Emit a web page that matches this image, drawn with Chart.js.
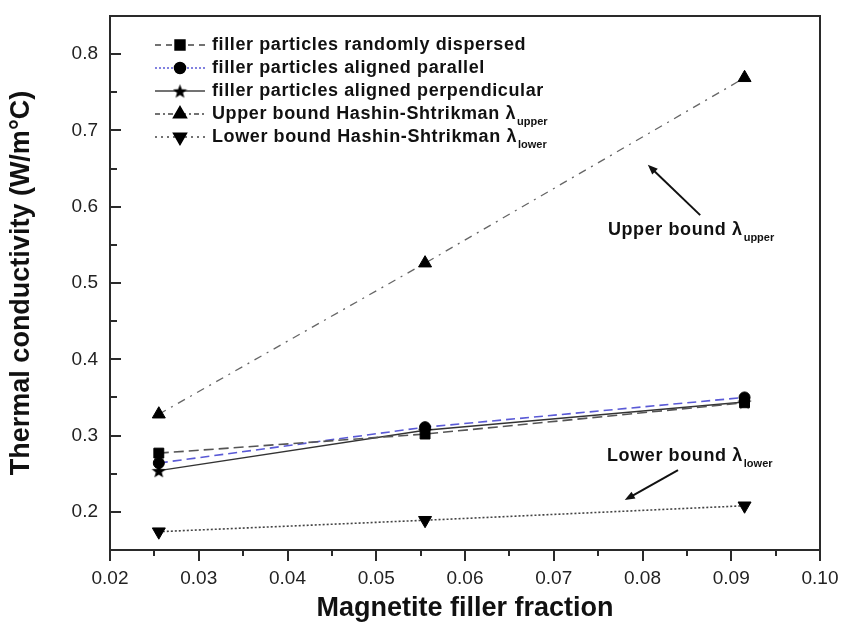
<!DOCTYPE html>
<html><head><meta charset="utf-8">
<script src="https://cdn.jsdelivr.net/npm/chart.js@4/dist/chart.umd.min.js"></script>
<style>html,body{margin:0;padding:0;background:#fff;}#wrap{width:842px;height:625px;}</style>
</head><body><div id="wrap"><canvas id="c" width="842" height="625"></canvas></div>
<script>
// ---- data ----
const xValues = [0.0255, 0.0555, 0.0915];
const randomlyDispersed = [0.277, 0.302, 0.343];
const alignedParallel = [0.264, 0.311, 0.350];
const alignedPerpendicular = [0.254, 0.307, 0.344];
const upperBound = [0.328, 0.526, 0.769];
const lowerBound = [0.174, 0.189, 0.208];
const seriesLabels = ['filler particles randomly dispersed', 'filler particles aligned parallel', 'filler particles aligned perpendicular', 'Upper bound Hashin-Shtrikman \u03bb', 'Lower bound Hashin-Shtrikman \u03bb'];
const seriesSubscripts = ['', '', '', 'upper', 'lower'];
const xTickValues = [0.02, 0.03, 0.04, 0.05, 0.06, 0.07, 0.08, 0.09, 0.10];
const xMinorTickValues = [0.025, 0.035, 0.045, 0.055, 0.065, 0.075, 0.085, 0.095];
const yTickValues = [0.2, 0.3, 0.4, 0.5, 0.6, 0.7, 0.8];
const yMinorTickValues = [0.25, 0.35, 0.45, 0.55, 0.65, 0.75];
const xTitle = 'Magnetite filler fraction';
const yTitle = 'Thermal conductivity (W/m\u00b0C)';
// annotations: [label, subscript, textX, textY, arrowTailX, arrowTailY, arrowHeadX, arrowHeadY] in data units
const annUpper = ['Upper bound \u03bb', 'upper', 0.0761, 0.563, 0.0865, 0.589, 0.0806, 0.655];
const annLower = ['Lower bound \u03bb', 'lower', 0.0760, 0.2666, 0.0840, 0.2548, 0.0780, 0.2155];

function pts(ys){ return xValues.map((x,i)=>({x:x, y:ys[i]})); }

function makeStar(size){
  const c=document.createElement('canvas'); c.width=size; c.height=size;
  const g=c.getContext('2d'); g.fillStyle='#000'; g.beginPath();
  const cx=size/2, cy=size/2+0.8, R=size/2, r=R*0.42;
  for(let i=0;i<10;i++){const a=-Math.PI/2+i*Math.PI/5; const rr=i%2?r:R; g.lineTo(cx+rr*Math.cos(a), cy+rr*Math.sin(a));}
  g.closePath(); g.fill(); return c;
}
const star = makeStar(15);

const FONT = "'Liberation Sans', Arial, sans-serif";
const legendDashes = [[6,5],[2,2],[],[5,3,2,3],[2,4]];

const datasets = [
  {label: seriesLabels[0], data: pts(randomlyDispersed), borderColor:'#555', borderDash:[10,5], borderWidth:1.6,
   pointStyle:'rect', pointRadius:7, pointBackgroundColor:'#000', pointBorderColor:'#000', pointBorderWidth:1},
  {label: seriesLabels[1], data: pts(alignedParallel), borderColor:'#5a5ad6', borderDash:[9,5], borderWidth:1.6,
   pointStyle:'circle', pointRadius:5.5, pointBackgroundColor:'#000', pointBorderColor:'#000', pointBorderWidth:1},
  {label: seriesLabels[2], data: pts(alignedPerpendicular), borderColor:'#333', borderWidth:1.4,
   pointStyle:star, pointRadius:7, pointBackgroundColor:'#000', pointBorderColor:'#000', pointBorderWidth:1},
  {label: seriesLabels[3], data: pts(upperBound), borderColor:'#666', borderDash:[8,6,2,6], borderWidth:1.3,
   pointStyle:'triangle', pointRadius:7.5, pointBackgroundColor:'#000', pointBorderColor:'#000', pointBorderWidth:1},
  {label: seriesLabels[4], data: pts(lowerBound), borderColor:'#444', borderDash:[2,2], borderWidth:1.6,
   pointStyle:'triangle', rotation:180, pointRotation:180, pointRadius:7.5, pointBackgroundColor:'#000', pointBorderColor:'#000', pointBorderWidth:1}
];

function drawMarker(ctx, ds, x, y){
  const H = Chart.helpers;
  if (H && H.drawPoint){
    H.drawPoint(ctx, {pointStyle: ds.pointStyle, rotation: ds.pointRotation||0, radius: ds.pointRadius, borderWidth: 1}, x, y);
    ctx.fill();
  }
}

const decorPlugin = {
  id:'decor',
  afterDraw(chart){
    const ctx=chart.ctx, a=chart.chartArea, xs=chart.scales.x, ys=chart.scales.y;
    ctx.save();
    // frame
    ctx.strokeStyle='#2a2a2a'; ctx.lineWidth=2; ctx.setLineDash([]);
    ctx.strokeRect(a.left, a.top, a.right-a.left, a.bottom-a.top);
    // ticks
    ctx.beginPath();
    xTickValues.forEach(v=>{const p=Math.round(xs.getPixelForValue(v)); ctx.moveTo(p,a.bottom); ctx.lineTo(p,a.bottom+11);});
    xMinorTickValues.forEach(v=>{const p=Math.round(xs.getPixelForValue(v)); ctx.moveTo(p,a.bottom); ctx.lineTo(p,a.bottom+6);});
    yTickValues.forEach(v=>{const p=Math.round(ys.getPixelForValue(v)); ctx.moveTo(a.left,p); ctx.lineTo(a.left+11,p);});
    yMinorTickValues.forEach(v=>{const p=Math.round(ys.getPixelForValue(v)); ctx.moveTo(a.left,p); ctx.lineTo(a.left+7,p);});
    ctx.stroke();

    // legend
    const lx0=a.left+45, lx1=a.left+95, mx=a.left+70, tx=a.left+102;
    chart.data.datasets.forEach((ds,i)=>{
      const y=a.top+29+i*23;
      ctx.save();
      ctx.strokeStyle= i===1 ? '#5a5ad6' : '#444'; ctx.lineWidth=1.5; ctx.setLineDash(legendDashes[i]);
      ctx.beginPath(); ctx.moveTo(lx0,y); ctx.lineTo(lx1,y); ctx.stroke();
      ctx.setLineDash([]); ctx.fillStyle='#000'; ctx.strokeStyle='#000';
      drawMarker(ctx, ds, mx, y);
      ctx.restore();
      ctx.fillStyle='#111'; ctx.textBaseline='middle'; ctx.textAlign='left';
      ctx.letterSpacing='0.6px';
      ctx.font="bold 18px "+FONT;
      ctx.fillText(ds.label, tx, y);
      if (seriesSubscripts[i]){
        const w=ctx.measureText(ds.label).width;
        ctx.letterSpacing='0px';
        ctx.font="bold 11px "+FONT;
        ctx.fillText(seriesSubscripts[i], tx+w+1, y+8);
      }
      ctx.letterSpacing='0px';
    });

    // annotations
    [annUpper, annLower].forEach(an=>{
      const tX=xs.getPixelForValue(an[2]), tY=ys.getPixelForValue(an[3]);
      ctx.fillStyle='#111'; ctx.textBaseline='alphabetic'; ctx.textAlign='left';
      ctx.letterSpacing='0.6px';
      ctx.font="bold 18px "+FONT;
      ctx.fillText(an[0], tX, tY);
      const w=ctx.measureText(an[0]).width;
      ctx.letterSpacing='0px';
      ctx.font="bold 11px "+FONT;
      ctx.fillText(an[1], tX+w+1, tY+6);
      const x1=xs.getPixelForValue(an[4]), y1=ys.getPixelForValue(an[5]);
      const x2=xs.getPixelForValue(an[6]), y2=ys.getPixelForValue(an[7]);
      const ang=Math.atan2(y2-y1,x2-x1);
      ctx.strokeStyle='#111'; ctx.lineWidth=2; ctx.setLineDash([]);
      ctx.beginPath(); ctx.moveTo(x1,y1); ctx.lineTo(x2-6*Math.cos(ang), y2-6*Math.sin(ang)); ctx.stroke();
      ctx.beginPath(); ctx.moveTo(x2,y2);
      ctx.lineTo(x2-10*Math.cos(ang)+4*Math.sin(ang), y2-10*Math.sin(ang)-4*Math.cos(ang));
      ctx.lineTo(x2-10*Math.cos(ang)-4*Math.sin(ang), y2-10*Math.sin(ang)+4*Math.cos(ang));
      ctx.closePath(); ctx.fillStyle='#111'; ctx.fill();
    });
    ctx.restore();
  }
};

new Chart(document.getElementById('c'), {
  type:'line',
  data:{datasets},
  options:{
    responsive:false, animation:false, devicePixelRatio:1,
    layout:{padding:{top:16, right:22, left:0, bottom:0}},
    plugins:{legend:{display:false}, tooltip:{enabled:false}},
    elements:{line:{tension:0, fill:false}},
    scales:{
      x:{type:'linear', min:0.02, max:0.10,
        afterBuildTicks:s=>{s.ticks=xTickValues.map(v=>({value:v}));},
        afterFit:s=>{s.height=75; s.paddingLeft=0; s.paddingRight=0;},
        grid:{display:false, drawTicks:false}, border:{display:false},
        ticks:{callback:v=>Number(v).toFixed(2), font:{family:FONT, size:19}, color:'#222', padding:17, maxRotation:0, autoSkip:false},
        title:{display:true, text:xTitle, font:{family:FONT, size:27, weight:'bold'}, color:'#111', padding:{top:0,bottom:0}}
      },
      y:{type:'linear', min:0.15, max:0.85,
        afterBuildTicks:s=>{s.ticks=yTickValues.map(v=>({value:v}));},
        afterFit:s=>{s.width=110; s.paddingTop=0; s.paddingBottom=0;},
        grid:{display:false, drawTicks:false}, border:{display:false},
        ticks:{callback:v=>Number(v).toFixed(1), font:{family:FONT, size:19}, color:'#222', padding:12, autoSkip:false},
        title:{display:true, text:yTitle, font:{family:FONT, size:27, weight:'bold'}, color:'#111', padding:{top:5,bottom:0}}
      }
    }
  },
  plugins:[decorPlugin]
});
</script></body></html>
